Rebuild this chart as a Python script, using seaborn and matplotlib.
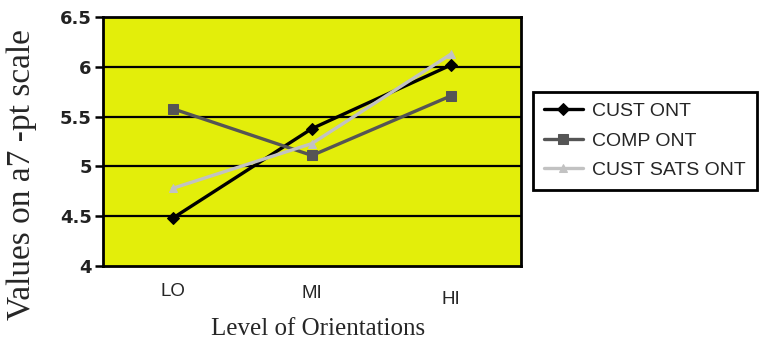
import numpy as np
import pandas as pd
import matplotlib
matplotlib.use("Agg")
import matplotlib.pyplot as plt
import matplotlib.transforms as mtransforms
import seaborn as sns

levels = ["LO", "MI", "HI"]
series = ["CUST ONT", "COMP ONT", "CUST SATS ONT"]
cust_ont = [4.48, 5.38, 6.02]
comp_ont = [5.58, 5.11, 5.71]
cust_sats_ont = [4.78, 5.23, 6.13]

colors = {"CUST ONT": "#000000", "COMP ONT": "#555555", "CUST SATS ONT": "#c2c2c2"}
markers = {"CUST ONT": "D", "COMP ONT": "s", "CUST SATS ONT": "^"}
msizes = {"CUST ONT": 6, "COMP ONT": 7, "CUST SATS ONT": 6}

df = pd.DataFrame({
    "level": levels * 3,
    "value": cust_ont + comp_ont + cust_sats_ont,
    "series": [s for s in series for _ in levels],
})
df["x"] = df["level"].map({l: i for i, l in enumerate(levels)})

sns.set_style("white")
fig = plt.figure(figsize=(7.65, 3.48), dpi=100)
ax = fig.add_axes([0.1346, 0.2356, 0.681 - 0.1346, 0.951 - 0.2356])
ax.set_facecolor("#e3ee0a")

for s in series:
    d = df[df["series"] == s]
    sns.lineplot(data=d, x="x", y="value", ax=ax, color=colors[s], marker=markers[s],
                 markersize=msizes[s], markeredgecolor=colors[s],
                 linewidth=2.4, label=s, zorder=3)

ax.set_ylim(4, 6.5)
ax.set_xlim(-0.5, 2.5)
yt = [4, 4.5, 5, 5.5, 6, 6.5]
ax.set_yticks(yt)
ax.set_yticklabels(["4", "4.5", "5", "5.5", "6", "6.5"], fontfamily="DejaVu Sans",
                   fontweight="bold", fontsize=13, color="#222222")
for v in yt[1:-1]:
    ax.axhline(v, color="black", linewidth=1.6, zorder=1)

ax.set_xticks(range(len(levels)))
ax.set_xticklabels(levels, fontfamily="Liberation Sans", fontsize=13.5)
ax.set_xticks([-0.5, 0.5, 1.5, 2.5], minor=True)
ax.tick_params(axis="x", which="major", length=0, pad=12)
ax.tick_params(axis="x", which="minor", length=6, width=1.8, direction="out", color="black")
ax.tick_params(axis="y", which="major", length=6, width=1.8, direction="out", color="black", pad=2, left=True)

# staggered tick labels as in the original
for lab, dy in zip(ax.get_xticklabels(), [0, -2, -6]):
    lab.set_transform(lab.get_transform() + mtransforms.ScaledTranslation(0, dy / 72, fig.dpi_scale_trans))

for sp in ax.spines.values():
    sp.set_visible(True)
    sp.set_color("black")
    sp.set_linewidth(2)

ax.set_xlabel("")
ax.set_ylabel("")
fig.text(318 / 765, 1 - 329 / 348, "Level of Orientations", fontfamily="Liberation Serif",
         fontsize=18, ha="center", va="center")
fig.text(22 / 765, 1 - 175 / 348, "Values on a7 -pt scale", fontfamily="Liberation Serif",
         fontsize=24, rotation=90, ha="center", va="center")

leg = ax.legend(loc="upper left", bbox_to_anchor=(533 / 765, 1 - 92 / 348), bbox_transform=fig.transFigure,
                borderaxespad=0, frameon=True, fancybox=False, edgecolor="black", framealpha=1,
                handlelength=2.0, handletextpad=0.5, borderpad=0.55, labelspacing=0.6,
                prop={"family": "Liberation Sans", "size": 14})
leg.get_frame().set_linewidth(2)

fig.savefig("out.png", dpi=100)
